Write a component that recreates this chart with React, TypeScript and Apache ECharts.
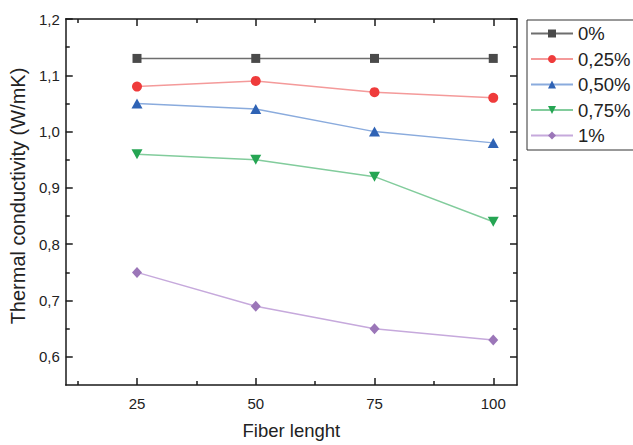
import React, { useEffect, useRef } from "react";
import * as echarts from "echarts";

const fiberLengths = [25, 50, 75, 100];
const seriesNames = ["0%", "0,25%", "0,50%", "0,75%", "1%"];
const values0 = [1.13, 1.13, 1.13, 1.13];
const values025 = [1.08, 1.09, 1.07, 1.06];
const values050 = [1.05, 1.04, 1.0, 0.98];
const values075 = [0.96, 0.95, 0.92, 0.84];
const values1 = [0.75, 0.69, 0.65, 0.63];
const xMajorTicks = [25, 50, 75, 100];
const xMinorTicks = [12.5, 37.5, 62.5, 87.5];
const yMajorTicks = [0.6, 0.7, 0.8, 0.9, 1.0, 1.1, 1.2];
const yMinorTicks = [0.65, 0.75, 0.85, 0.95, 1.05, 1.15];

const FONT = 'Arial, "Liberation Sans", sans-serif';
const AX = "#1a1a1a";

export default function App() {
  const ref = useRef<HTMLDivElement>(null);
  useEffect(() => {
    if (!ref.current) return;
    const chart = echarts.init(ref.current, undefined, { renderer: "svg" });
    const allValues = [values0, values025, values050, values075, values1];
    const markerColors = ["#4a4a4a", "#ef3b3b", "#2f63b5", "#25a553", "#9b76b8"];
    const lineColors = ["#6e6e6e", "#f49a9a", "#8aabdd", "#82cc9c", "#c6a9dc"];
    const symbols = ["rect", "circle", "triangle", "path://M0,0 L10,0 L5,9 Z", "diamond"];
    const sizes: any[] = [9, 10, [11, 10], [11, 10], [10, 11]];

    const mkX = (pos: string, ticks: number[], len: number, showLine: boolean, showLabel: boolean) => ({
      type: "value",
      position: pos,
      min: 10,
      max: 105,
      axisLine: { show: showLine, onZero: false, lineStyle: { color: AX, width: 1.5 } },
      axisTick: { show: true, inside: true, length: len, customValues: ticks, lineStyle: { color: AX, width: 1.5 } },
      axisLabel: {
        show: showLabel,
        customValues: ticks,
        color: "#222",
        fontSize: 15,
        fontFamily: FONT,
        margin: 11,
      },
      splitLine: { show: false },
    });
    const mkY = (pos: string, ticks: number[], len: number, showLine: boolean, showLabel: boolean) => ({
      type: "value",
      position: pos,
      min: 0.55,
      max: 1.2,
      axisLine: { show: showLine, onZero: false, lineStyle: { color: AX, width: 1.5 } },
      axisTick: { show: true, inside: true, length: len, customValues: ticks, lineStyle: { color: AX, width: 1.5 } },
      axisLabel: {
        show: showLabel,
        customValues: ticks,
        color: "#222",
        fontSize: 15,
        fontFamily: FONT,
        margin: 6,
        formatter: (v: number) => v.toFixed(1).replace(".", ","),
      },
      splitLine: { show: false },
    });

    const xMain: any = mkX("bottom", xMajorTicks, 7, true, true);
    xMain.name = "Fiber lenght";
    xMain.nameLocation = "middle";
    xMain.nameGap = 36;
    xMain.nameTextStyle = { fontSize: 18.5, color: "#222", fontFamily: FONT };
    const yMain: any = mkY("left", yMajorTicks, 7, true, true);
    yMain.name = "Thermal conductivity (W/mK)";
    yMain.nameLocation = "middle";
    yMain.nameGap = 30;
    yMain.nameTextStyle = { fontSize: 20, color: "#222", fontFamily: FONT, padding: [0, 0, 0, 12] };

    chart.setOption({
      animation: false,
      backgroundColor: "#ffffff",
      grid: { left: 63, top: 19, right: 116, bottom: 52, containLabel: false },
      legend: {
        orient: "vertical",
        left: 527,
        top: 20,
        itemWidth: 42,
        itemHeight: 10,
        itemGap: 6.5,
        padding: [4, 30, 5, 3],
        borderColor: "#333",
        borderWidth: 1,
        itemStyle: { borderWidth: 0 },
        textStyle: { fontSize: 18.5, color: "#222", fontFamily: FONT },
        data: seriesNames,
      },
      xAxis: [
        xMain,
        mkX("bottom", xMinorTicks, 4, false, false),
        mkX("top", xMajorTicks, 7, true, false),
        mkX("top", xMinorTicks, 4, false, false),
      ],
      yAxis: [
        yMain,
        mkY("left", yMinorTicks, 4, false, false),
        mkY("right", yMajorTicks, 7, true, false),
        mkY("right", yMinorTicks, 4, false, false),
      ],
      series: seriesNames.map((name, i) => ({
        name,
        type: "line",
        xAxisIndex: 0,
        yAxisIndex: 0,
        data: fiberLengths.map((x, j) => [x, allValues[i][j]]),
        symbol: symbols[i],
        symbolSize: sizes[i],
        lineStyle: { color: lineColors[i], width: 1.5 },
        itemStyle: { color: markerColors[i], borderWidth: 0 },
        emphasis: { disabled: true },
      })),
    });
    return () => chart.dispose();
  }, []);
  return <div ref={ref} style={{ position: "fixed", left: 0, top: 0, width: 633, height: 445 }} />;
}
